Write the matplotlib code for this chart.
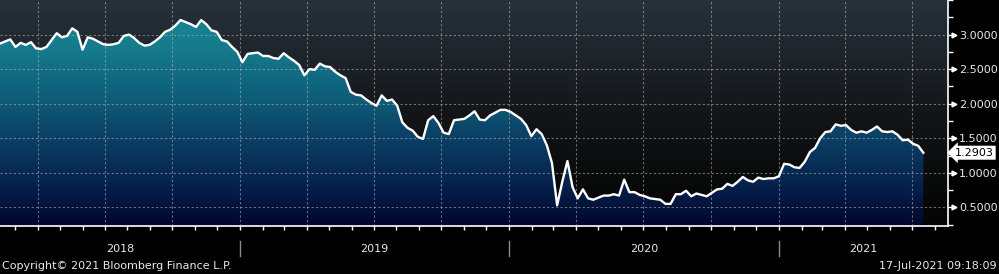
import numpy as np
import pandas as pd
import matplotlib
matplotlib.use('Agg')
import matplotlib.pyplot as plt
import matplotlib.dates as mdates
from matplotlib.colors import LinearSegmentedColormap
from matplotlib.ticker import MultipleLocator, FixedLocator, FormatStrFormatter
from matplotlib.transforms import blended_transform_factory

plt.rcParams['font.family'] = ['DejaVu Sans']

# --- data: weekly closes ---
start_date = '2018-02-09'
yields = [
    2.87, 2.90, 2.93, 2.82, 2.88, 2.85, 2.89, 2.80, 2.79, 2.82,
    2.92, 3.02, 2.96, 2.98, 3.09, 3.04, 2.78, 2.96, 2.94, 2.90,
    2.86, 2.85, 2.86, 2.88, 2.98, 3.00, 2.95, 2.88, 2.84, 2.85,
    2.90, 2.96, 3.04, 3.07, 3.13, 3.21, 3.18, 3.15, 3.11, 3.21,
    3.15, 3.06, 3.04, 2.92, 2.90, 2.82, 2.75, 2.60, 2.72, 2.73,
    2.74, 2.69, 2.69, 2.66, 2.65, 2.73, 2.67, 2.62, 2.56, 2.41,
    2.50, 2.49, 2.58, 2.54, 2.53, 2.46, 2.41, 2.37, 2.17, 2.13,
    2.12, 2.06, 2.01, 1.97, 2.12, 2.04, 2.06, 1.97, 1.73, 1.65,
    1.61, 1.52, 1.49, 1.76, 1.82, 1.72, 1.58, 1.56, 1.76, 1.77,
    1.78, 1.83, 1.89, 1.77, 1.76, 1.83, 1.87, 1.91, 1.91, 1.88,
    1.83, 1.78, 1.69, 1.53, 1.63, 1.56, 1.40, 1.14, 0.53, 0.87,
    1.17, 0.79, 0.63, 0.76, 0.63, 0.61, 0.64, 0.67, 0.67, 0.69,
    0.67, 0.90, 0.72, 0.72, 0.68, 0.66, 0.63, 0.62, 0.61, 0.55,
    0.55, 0.69, 0.69, 0.74, 0.66, 0.70, 0.68, 0.66, 0.71, 0.76,
    0.77, 0.84, 0.81, 0.87, 0.94, 0.89, 0.87, 0.93, 0.91, 0.92,
    0.92, 0.95, 1.13, 1.12, 1.08, 1.07, 1.16, 1.30, 1.36, 1.50,
    1.59, 1.60, 1.70, 1.68, 1.69, 1.62, 1.58, 1.60, 1.58, 1.62,
    1.67, 1.60, 1.59, 1.60, 1.55, 1.47, 1.48, 1.42, 1.39, 1.2903,
]
dates = pd.date_range(start_date, periods=len(yields), freq='7D')
y_tick_values = [0.5, 1.0, 1.5, 2.0, 2.5, 3.0]
year_labels = ['2018', '2019', '2020', '2021']
copyright_text = 'Copyright\u00a9 2021 Bloomberg Finance L.P.'
stamp_text = '17-Jul-2021 09:18:09'

x_min = pd.Timestamp('2018-02-09')
x_max = pd.Timestamp('2021-08-18')
y_min, y_max = 0.23, 3.5

# --- colours ---
bg_cmap = LinearSegmentedColormap.from_list('bg', [
    (0.0, '#040404'), (0.12, '#070707'), (0.47, '#121416'),
    (0.73, '#1d2329'), (1.0, '#27313b')])
fill_cmap = LinearSegmentedColormap.from_list('fill', [
    (0.0, '#01052c'), (0.2, '#062450'), (0.4, '#0b4166'),
    (0.56, '#0e5c78'), (0.78, '#157a8c'), (1.0, '#1a8a98')])
text_col = '#e8e8e8'

fig = plt.figure(figsize=(9.99, 2.74), dpi=100, facecolor='black')
ax = fig.add_axes([0, 48 / 274, 947.7 / 999, 226 / 274])

grad = np.linspace(0, 1, 256).reshape(-1, 1)
ax.imshow(grad, cmap=bg_cmap, origin='lower', extent=[0, 1, 0, 1],
          transform=ax.transAxes, aspect='auto', zorder=0)

xnum = mdates.date2num(dates)
x0, x1 = mdates.date2num(x_min), mdates.date2num(x_max)
im = ax.imshow(grad, cmap=fill_cmap, origin='lower',
               extent=[x0, x1, y_min, y_max], aspect='auto', zorder=1)
poly = ax.fill_between(xnum, yields, y_min, facecolor='none', edgecolor='none')
im.set_clip_path(poly.get_paths()[0], transform=ax.transData)

ax.plot(xnum, yields, color='white', lw=1.7, zorder=3, solid_joinstyle='round')

ax.set_xlim(x0, x1)
ax.set_ylim(y_min, y_max)

# --- axes styling ---
ax.xaxis.set_major_locator(mdates.MonthLocator(bymonth=[1, 4, 7, 10]))
ax.xaxis.set_minor_locator(mdates.MonthLocator())
ax.tick_params(axis='x', which='both', length=3, width=1, colors='white',
               labelbottom=False, direction='out')

ax.yaxis.tick_right()
ax.yaxis.set_major_locator(FixedLocator(y_tick_values))
ax.yaxis.set_minor_locator(MultipleLocator(0.25))
ax.yaxis.set_major_formatter(FormatStrFormatter('%.4f'))
ax.tick_params(axis='y', which='major', length=5, width=1, colors='white',
               labelsize=8, pad=3, labelcolor=text_col)
ax.tick_params(axis='y', which='minor', length=3.5, width=1, colors='white')

for s in ['left', 'top']:
    ax.spines[s].set_visible(False)
for s in ['right', 'bottom']:
    ax.spines[s].set_color('white')
    ax.spines[s].set_linewidth(1.2)

ax.set_axisbelow('line')
ax.grid(which='major', color='#b0b0b0', alpha=0.6, linestyle=(0, (2, 2)), linewidth=0.8)

# small arrow heads on the major y ticks
ytr = blended_transform_factory(ax.transAxes, ax.transData)
ax.plot([1.0062] * len(y_tick_values), y_tick_values, ls='none', marker='>', ms=3.5,
        color='white', transform=ytr, clip_on=False)

# last value tag
ax.text(1.0075, yields[-1], f'{yields[-1]:.4f}', transform=ytr, ha='left', va='center',
        fontsize=8, color='black', zorder=5,
        bbox=dict(boxstyle='larrow,pad=0.18', fc='white', ec='none'))

# year bands below the axis
xtr = blended_transform_factory(ax.transData, ax.transAxes)
for i, yl in enumerate(year_labels):
    y_start = pd.Timestamp(f'{yl}-01-01')
    y_end = pd.Timestamp(f'{int(yl) + 1}-01-01')
    a = mdates.date2num(max(y_start, x_min))
    b = mdates.date2num(min(y_end, x_max))
    ax.text((a + b) / 2, -0.102, yl, transform=xtr, ha='center', va='center',
            fontsize=8, color=text_col)
    if i > 0:
        sx = mdates.date2num(y_start)
        ax.plot([sx, sx], [-0.066, -0.133], transform=xtr, color='#8c8c8c',
                lw=1, clip_on=False)

fig.text(2 / 999, 8 / 274, copyright_text, ha='left', va='center',
         fontsize=8, color=text_col)
fig.text(997 / 999, 8 / 274, stamp_text, ha='right', va='center',
         fontsize=8, color=text_col)

fig.savefig('out.png', dpi=100, facecolor='black')
